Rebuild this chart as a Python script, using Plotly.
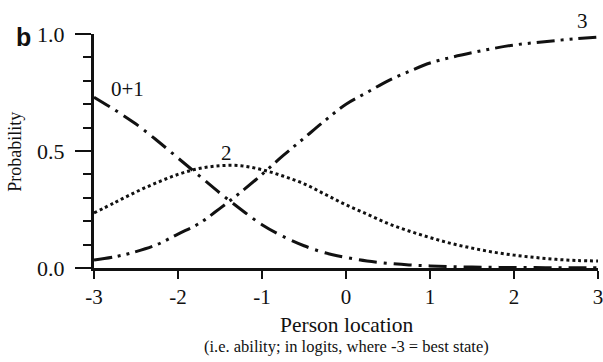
import plotly.graph_objects as go

# Person location (logits)
x_vals = [-3, -2.75, -2.5, -2.25, -2, -1.75, -1.5, -1.25, -1, -0.75, -0.5, -0.25,
          0, 0.25, 0.5, 0.75, 1, 1.25, 1.5, 1.75, 2, 2.25, 2.5, 2.75, 3]

# Category probability curves
p_cat01 = [0.73, 0.675, 0.615, 0.545, 0.47, 0.395, 0.32, 0.25, 0.185, 0.135, 0.095, 0.065,
           0.045, 0.03, 0.02, 0.013, 0.009, 0.006, 0.004, 0.003, 0.002, 0.002, 0.001, 0.001, 0.001]
p_cat2 = [0.235, 0.28, 0.325, 0.365, 0.40, 0.425, 0.437, 0.437, 0.42, 0.393, 0.36, 0.315,
          0.27, 0.23, 0.19, 0.158, 0.13, 0.105, 0.085, 0.068, 0.055, 0.045, 0.037, 0.032, 0.03]
p_cat3 = [0.034, 0.048, 0.07, 0.10, 0.145, 0.19, 0.255, 0.325, 0.40, 0.48, 0.555, 0.63,
          0.70, 0.75, 0.80, 0.84, 0.876, 0.90, 0.92, 0.938, 0.953, 0.963, 0.972, 0.98, 0.987]

cat_labels = ["0+1", "2", "3"]
label_x = [-2.6, -1.42, 2.81]
label_y = [0.765, 0.49, 1.055]

x_ticks = [-3, -2, -1, 0, 1, 2, 3]
x_ticktext = ["-3", "-2", "-1", "0", "1", "2", "3"]
y_ticks = [0.0, 0.5, 1.0]
y_ticktext = ["0.0", "0.5", "1.0"]
x_range = [-3, 3]
y_range = [0, 1]

serif = "Liberation Serif, Times New Roman, serif"
black = "#111111"

fig = go.Figure()
fig.add_trace(go.Scatter(x=x_vals, y=p_cat01, mode="lines", line_shape="spline",
                         line=dict(color=black, width=3, dash="18px,7px,3px,7px"),
                         cliponaxis=False, showlegend=False, hoverinfo="skip"))
fig.add_trace(go.Scatter(x=x_vals, y=p_cat2, mode="lines", line_shape="spline",
                         line=dict(color=black, width=3, dash="3px,3px"),
                         cliponaxis=False, showlegend=False, hoverinfo="skip"))
fig.add_trace(go.Scatter(x=x_vals, y=p_cat3, mode="lines", line_shape="spline",
                         line=dict(color=black, width=3, dash="18px,6px,3px,6px,3px,6px"),
                         cliponaxis=False, showlegend=False, hoverinfo="skip"))

# curve labels placed in paper coordinates (converted from data values) so that
# labels above the axis range are not hidden
for t, lx, ly in zip(cat_labels, label_x, label_y):
    px = (lx - x_range[0]) / (x_range[1] - x_range[0])
    py = (ly - y_range[0]) / (y_range[1] - y_range[0])
    fig.add_annotation(x=px, y=py, text=t, showarrow=False, xref="paper", yref="paper",
                       xanchor="center", yanchor="middle",
                       font=dict(family=serif, size=21, color=black))

fig.add_annotation(x=-0.139, y=0.987, xref="paper", yref="paper", text="<b>b</b>",
                   showarrow=False, xanchor="center", yanchor="middle",
                   font=dict(family="Liberation Sans, Arial, sans-serif", size=25, color=black))
fig.add_annotation(x=-0.157, y=0.496, xref="paper", yref="paper", text="Probability",
                   textangle=-90, showarrow=False, xanchor="center", yanchor="middle",
                   font=dict(family=serif, size=18, color=black))
fig.add_annotation(x=0.5, y=-0.2436, xref="paper", yref="paper",
                   text="Person location", showarrow=False,
                   xanchor="center", yanchor="middle",
                   font=dict(family=serif, size=21.5, color=black))
fig.add_annotation(x=0.5, y=-0.3376, xref="paper", yref="paper",
                   text="(i.e. ability; in logits, where -3 = best state)", showarrow=False,
                   xanchor="center", yanchor="middle",
                   font=dict(family=serif, size=16.5, color=black))

fig.update_layout(
    width=603, height=362,
    margin=dict(l=94, r=5, t=34, b=94, autoexpand=False),
    plot_bgcolor="white", paper_bgcolor="white",
    hovermode=False,
    xaxis=dict(range=x_range, tickvals=x_ticks, ticktext=x_ticktext,
               ticks="outside", ticklen=8, tickwidth=2, tickcolor=black,
               showline=True, linewidth=3, linecolor=black, showgrid=False,
               zeroline=False, ticklabeloverflow="allow",
               tickfont=dict(family=serif, size=21, color=black)),
    xaxis2=dict(range=x_range, overlaying="x", matches="x", anchor="y", side="bottom",
                tickvals=x_ticks, ticks="inside", ticklen=7, tickwidth=2, tickcolor=black,
                showticklabels=False, showline=False, showgrid=False, zeroline=False),
    yaxis=dict(range=y_range, tickvals=y_ticks, ticktext=y_ticktext,
               ticks="outside", ticklen=16, tickwidth=2, tickcolor=black,
               minor=dict(dtick=0.1, tick0=0, ticks="outside", ticklen=8, tickwidth=2,
                          tickcolor=black),
               showline=True, linewidth=3, linecolor=black, showgrid=False,
               zeroline=False, ticklabelstandoff=6,
               tickfont=dict(family=serif, size=22, color=black)),
)

fig.write_html("out.html", config={"displayModeBar": False, "staticPlot": True},
               post_script="document.body.style.margin='0px';document.body.style.overflow='hidden';")
